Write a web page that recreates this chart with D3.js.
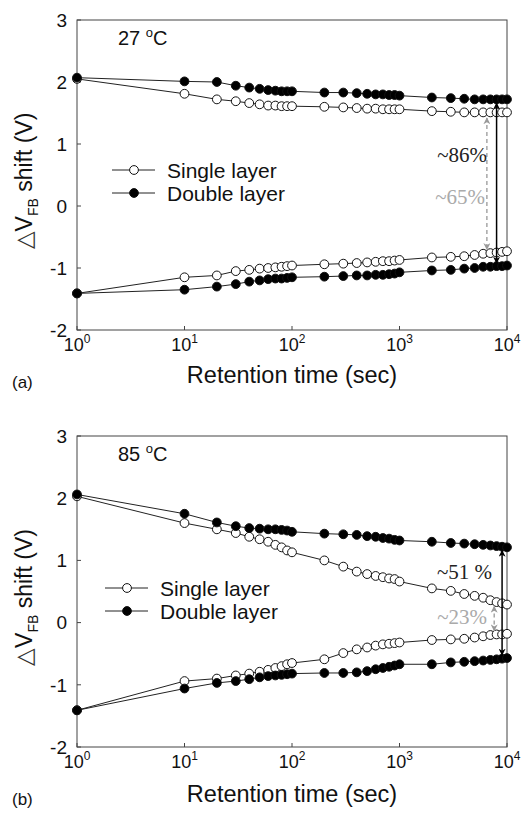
<!DOCTYPE html>
<html>
<head>
<meta charset="utf-8">
<style>
  body { margin: 0; background: #fff; }
  svg text { font-family: "Liberation Sans", Arial, sans-serif; fill: #111; }
  .pct { font-family: "Liberation Serif", "Times New Roman", serif; }
</style>
</head>
<body>
<script src="https://cdn.jsdelivr.net/npm/d3@7"></script>
<script>
  const width = 526
  const height = 816

  // retention times (sec)
  const times = [1, 10, 20, 30, 40, 50, 60, 70, 80, 90, 100,
    200, 300, 400, 500, 600, 700, 800, 900, 1000,
    2000, 3000, 4000, 5000, 6000, 7000, 8000, 9000, 10000]

  const yTicks = [3, 2, 1, 0, -1, -2]
  const xTicks = [0, 1, 2, 3, 4] // exponents

  // (a) 27 C
  const progSingle27 = [2.05, 1.81, 1.72, 1.69, 1.66, 1.64, 1.62, 1.62, 1.61, 1.61, 1.61,
    1.60, 1.59, 1.58, 1.57, 1.57, 1.56, 1.56, 1.56, 1.56,
    1.53, 1.52, 1.51, 1.51, 1.51, 1.51, 1.51, 1.51, 1.51]
  const progDouble27 = [2.07, 2.01, 2.00, 1.94, 1.91, 1.89, 1.87, 1.86, 1.85, 1.85, 1.85,
    1.83, 1.83, 1.82, 1.81, 1.80, 1.80, 1.79, 1.79, 1.78,
    1.75, 1.74, 1.73, 1.72, 1.72, 1.72, 1.72, 1.72, 1.72]
  const eraseSingle27 = [-1.41, -1.15, -1.12, -1.05, -1.03, -1.01, -1.00, -0.99, -0.98, -0.97, -0.96,
    -0.94, -0.93, -0.92, -0.91, -0.90, -0.89, -0.89, -0.88, -0.87,
    -0.83, -0.82, -0.81, -0.79, -0.77, -0.76, -0.75, -0.74, -0.73]
  const eraseDouble27 = [-1.41, -1.35, -1.30, -1.26, -1.22, -1.20, -1.18, -1.17, -1.17, -1.16, -1.15,
    -1.14, -1.13, -1.12, -1.12, -1.11, -1.11, -1.10, -1.09, -1.07,
    -1.04, -1.03, -1.01, -1.00, -0.98, -0.98, -0.97, -0.97, -0.96]

  // (b) 85 C
  const progSingle85 = [2.03, 1.60, 1.50, 1.44, 1.38, 1.34, 1.30, 1.25, 1.21, 1.16, 1.13,
    1.00, 0.90, 0.82, 0.78, 0.75, 0.73, 0.71, 0.70, 0.66,
    0.55, 0.51, 0.46, 0.43, 0.40, 0.36, 0.33, 0.31, 0.29]
  const progDouble85 = [2.06, 1.75, 1.61, 1.55, 1.52, 1.51, 1.50, 1.50, 1.49, 1.48, 1.46,
    1.43, 1.42, 1.41, 1.39, 1.38, 1.36, 1.35, 1.33, 1.32,
    1.30, 1.28, 1.27, 1.26, 1.25, 1.24, 1.23, 1.22, 1.21]
  const eraseSingle85 = [-1.41, -0.94, -0.90, -0.85, -0.82, -0.79, -0.76, -0.73, -0.70, -0.67, -0.65,
    -0.59, -0.49, -0.43, -0.40, -0.37, -0.35, -0.34, -0.33, -0.32,
    -0.28, -0.27, -0.26, -0.24, -0.22, -0.20, -0.19, -0.19, -0.18]
  const eraseDouble85 = [-1.41, -1.06, -0.97, -0.94, -0.91, -0.88, -0.86, -0.85, -0.84, -0.83, -0.82,
    -0.81, -0.81, -0.80, -0.78, -0.75, -0.73, -0.71, -0.69, -0.67,
    -0.67, -0.64, -0.63, -0.62, -0.61, -0.60, -0.59, -0.58, -0.57]

  const legendLabels = ["Single layer", "Double layer"]

  const svg = d3.select("body")
    .append("svg")
    .attr("width", width)
    .attr("height", height)

  function drawPanel(opts) {
    const x = d3.scaleLog().domain([1, 10000]).range([77, 507])
    const y = d3.scaleLinear().domain([-2, 3]).range([opts.bottom, opts.top])

    const g = svg.append("g")

    // frame
    g.append("rect")
      .attr("x", x.range()[0])
      .attr("y", opts.top)
      .attr("width", x.range()[1] - x.range()[0])
      .attr("height", opts.bottom - opts.top)
      .attr("fill", "none")
      .attr("stroke", "#444")
      .attr("stroke-width", 1)

    // y ticks
    g.selectAll("line.ytick")
      .data(yTicks)
      .enter().append("line")
      .attr("x1", 77).attr("x2", 81)
      .attr("y1", d => y(d)).attr("y2", d => y(d))
      .attr("stroke", "#444")

    g.selectAll("text.ylab")
      .data(yTicks)
      .enter().append("text")
      .attr("x", 67)
      .attr("y", d => y(d))
      .attr("dy", "0.36em")
      .attr("text-anchor", "end")
      .attr("font-size", 19)
      .text(d => d)

    // x ticks
    g.selectAll("line.xtick")
      .data(xTicks)
      .enter().append("line")
      .attr("x1", d => x(Math.pow(10, d))).attr("x2", d => x(Math.pow(10, d)))
      .attr("y1", opts.bottom).attr("y2", opts.bottom - 4)
      .attr("stroke", "#444")

    const xl = g.selectAll("text.xlab")
      .data(xTicks)
      .enter().append("text")
      .attr("x", d => x(Math.pow(10, d)))
      .attr("y", opts.bottom + 21)
      .attr("text-anchor", "middle")
      .attr("font-size", 18)
    xl.append("tspan").text("10")
    xl.append("tspan").attr("dy", -8).attr("font-size", 12).text(d => d)

    // axis titles
    g.append("text")
      .attr("x", 292)
      .attr("y", opts.titleY)
      .attr("text-anchor", "middle")
      .attr("font-size", 23.5)
      .text("Retention time (sec)")

    g.append("text")
      .attr("x", 12)
      .attr("y", opts.tagY)
      .attr("font-size", 17)
      .text(opts.tag)

    const yl = g.append("text")
      .attr("transform", `translate(32, ${(opts.top + opts.bottom) / 2 + 6}) rotate(-90)`)
      .attr("text-anchor", "middle")
      .attr("font-size", 23)
    yl.append("tspan").attr("font-family", "DejaVu Sans").attr("font-weight", 200).attr("fill", "#333").text("\u25B3")
    yl.append("tspan").text("V")
    yl.append("tspan").attr("dy", 6).attr("font-size", 14).text("FB")
    yl.append("tspan").attr("dy", -6).text(" shift (V)")

    // temperature label
    const tl = g.append("text")
      .attr("x", 118)
      .attr("y", opts.top + 25)
      .attr("font-size", 20)
    tl.append("tspan").text(opts.temp + " ")
    tl.append("tspan").attr("dy", -8).attr("font-size", 13).text("o")
    tl.append("tspan").attr("dy", 8).text("C")

    // data series
    const line = d3.line()
      .x((d, i) => x(times[i]))
      .y(d => y(d))

    const series = [
      { values: opts.progSingle, fill: "#fff" },
      { values: opts.eraseSingle, fill: "#fff" },
      { values: opts.progDouble, fill: "#000" },
      { values: opts.eraseDouble, fill: "#000" }
    ]

    series.forEach(s => {
      g.append("path")
        .datum(s.values)
        .attr("d", line)
        .attr("fill", "none")
        .attr("stroke", "#222")
        .attr("stroke-width", 1)
    })
    series.forEach(s => {
      g.selectAll(null)
        .data(s.values)
        .enter().append("circle")
        .attr("cx", (d, i) => x(times[i]))
        .attr("cy", d => y(d))
        .attr("r", 4.4)
        .attr("fill", s.fill)
        .attr("stroke", "#111")
        .attr("stroke-width", 1)
    })

    // legend
    legendLabels.forEach((label, i) => {
      const ly = opts.legendY + i * 23
      g.append("line")
        .attr("x1", opts.legendX).attr("x2", opts.legendX + 43)
        .attr("y1", ly).attr("y2", ly)
        .attr("stroke", "#222")
      g.append("circle")
        .attr("cx", opts.legendX + 22).attr("cy", ly)
        .attr("r", 4.4)
        .attr("fill", i === 0 ? "#fff" : "#000")
        .attr("stroke", "#111")
      g.append("text")
        .attr("x", opts.legendX + 55)
        .attr("y", ly)
        .attr("dy", "0.36em")
        .attr("font-size", 21)
        .text(label)
    })

    // arrows
    opts.arrows.forEach(a => {
      const ax = x(a.t)
      g.append("line")
        .attr("x1", ax).attr("x2", ax)
        .attr("y1", y(a.from)).attr("y2", y(a.to))
        .attr("stroke", a.color)
        .attr("stroke-width", a.dashed ? 1.3 : 1.5)
        .attr("stroke-dasharray", a.dashed ? "4,3" : null)
        .attr("marker-start", `url(#head-${a.id})`)
        .attr("marker-end", `url(#head-${a.id})`)
      g.append("text")
        .attr("class", "pct")
        .attr("x", a.labelX)
        .attr("y", a.labelY)
        .attr("text-anchor", "end")
        .attr("font-size", 21)
        .style("fill", a.color === "#000" ? "#222" : "#aaa")
        .text(a.label)
    })
  }

  // arrow heads
  const defs = svg.append("defs")
  ;[["dark", "#000"], ["grey", "#999"]].forEach(([id, c]) => {
    defs.append("marker")
      .attr("id", "head-" + id)
      .attr("viewBox", "0 0 10 10")
      .attr("refX", 9).attr("refY", 5)
      .attr("markerWidth", 7).attr("markerHeight", 7)
      .attr("markerUnits", "userSpaceOnUse")
      .attr("orient", "auto-start-reverse")
      .append("path")
      .attr("d", "M0,0 L10,5 L0,10 L3,5 Z")
      .attr("fill", c)
  })

  drawPanel({
    top: 20, bottom: 330, tag: "(a)", temp: "27", titleY: 383, tagY: 388,
    progSingle: progSingle27, progDouble: progDouble27,
    eraseSingle: eraseSingle27, eraseDouble: eraseDouble27,
    legendX: 112, legendY: 170,
    arrows: [
      { id: "grey", t: 6500, from: 1.42, to: -0.70, color: "#999", dashed: true, label: "~65%", labelX: 485, labelY: 204 },
      { id: "dark", t: 8000, from: 1.66, to: -0.92, color: "#000", dashed: false, label: "~86%", labelX: 487, labelY: 162 }
    ]
  })

  drawPanel({
    top: 436, bottom: 747, tag: "(b)", temp: "85", titleY: 802, tagY: 805,
    progSingle: progSingle85, progDouble: progDouble85,
    eraseSingle: eraseSingle85, eraseDouble: eraseDouble85,
    legendX: 105, legendY: 588,
    arrows: [
      { id: "grey", t: 7600, from: 0.26, to: -0.13, color: "#999", dashed: true, label: "~23%", labelX: 487, labelY: 624 },
      { id: "dark", t: 9000, from: 1.16, to: -0.52, color: "#000", dashed: false, label: "~51 %", labelX: 492, labelY: 579 }
    ]
  })
</script>
</body>
</html>
